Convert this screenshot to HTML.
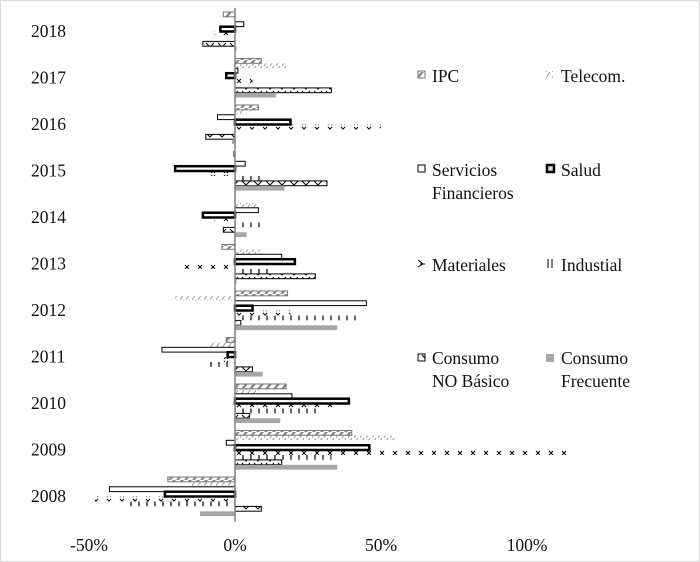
<!DOCTYPE html>
<html><head><meta charset="utf-8"><style>
body{margin:0;background:#fff}
svg{display:block}
text{font-family:"Liberation Serif",serif;font-size:17.5px;fill:#111}
</style></head><body>
<svg id="chart" width="700" height="562" viewBox="0 0 700 562">
<defs>
<pattern id="pIPC" width="8" height="6" patternUnits="userSpaceOnUse"><rect width="8" height="6" fill="#fff"/><path d="M0,6 L5,0 L8,0 L3,6Z" fill="#888"/></pattern>
<pattern id="pTel" width="6" height="6" patternUnits="userSpaceOnUse"><path d="M0,6 L4,0" stroke="#999" stroke-width="1"/></pattern>
<pattern id="pMat" width="13" height="6" patternUnits="userSpaceOnUse"><path d="M3,1 L7,5 M7,1 L3,5" stroke="#000" stroke-width="1"/></pattern>
<pattern id="pInd" width="8" height="6" patternUnits="userSpaceOnUse"><path d="M3,0 L3,6" stroke="#000" stroke-width="1.2"/></pattern>
<pattern id="pCNB" width="12" height="6" patternUnits="userSpaceOnUse"><rect width="12" height="6" fill="#fff"/><path d="M2,1 L6,5 L10,1" stroke="#000" fill="none" stroke-width="1"/></pattern>
</defs>
<rect x="0.5" y="0.5" width="699" height="561" fill="#fff" stroke="#d9d9d9"/>
<g id="bars"></g>
<line x1="235" y1="8" x2="235" y2="522" stroke="#808080" stroke-width="1.5"/>
<g id="ylabels"></g>
<g id="xlabels"></g>
<g>
<g><rect x="418" y="71" width="7" height="7" fill="url(#pIPC)" stroke="#777"/><text x="432" y="82">IPC</text></g>
<g><rect x="546" y="71" width="7" height="7" fill="url(#pTel)"/><text x="561" y="82">Telecom.</text></g>
<g><rect x="418" y="165" width="7" height="7" fill="#fff" stroke="#000"/><text x="432" y="176">Servicios</text><text x="432" y="199">Financieros</text></g>
<g><rect x="547" y="165" width="7" height="7" fill="#ddd" stroke="#000" stroke-width="2.5"/><text x="561" y="176">Salud</text></g>
<g><path d="M418,260 L423,264 L418,267 M420,264 L425,264" stroke="#000" fill="none"/><text x="432" y="271">Materiales</text></g>
<g><path d="M548,259 L548,268 M552,259 L552,268" stroke="#000"/><text x="561" y="271">Industial</text></g>
<g><rect x="418" y="354" width="7" height="7" fill="url(#pCNB)" stroke="#000"/><text x="432" y="364">Consumo</text><text x="432" y="387">NO Básico</text></g>
<g><rect x="546" y="354" width="8" height="8" fill="#a6a6a6"/><text x="561" y="364">Consumo</text><text x="561" y="387">Frecuente</text></g>
</g>
</svg>
<script>
const years=[2018,2017,2016,2015,2014,2013,2012,2011,2010,2009,2008];
const ipc=[-4,9,8,-0.5,0,-4.5,18,-3,17.5,40,-23];
const telecom=[-1,18,4,0,7.5,9,-20.5,-9,8,55,-15];
const serviciosFin=[3,1,-6,3.5,8,16,45,-25,19.5,-3,-43];
const salud=[-5,-3,19,-20.5,-11,20.5,6,-2.5,39,46,-24];
const materiales=[-7,6,50,-10,-7,-18,19,-6,33.5,116,-48];
const industrial=[-2,0,0,10,10,13,43,-10,28,33,-36];
const consumoNoBasico=[-11,33,-10,31.5,-4,27.5,2,6,5,16,9];
const consumoFrecuente=[0.5,14,-1,17,4,0.5,35,9.5,15.5,35,-12];
const xTicks=[-50,0,50,100];
const seriesNames=['ipc','telecom','servicios-financieros','salud','materiales','industrial','consumo-no-basico','consumo-frecuente'];
const seriesData=[ipc,telecom,serviciosFin,salud,materiales,industrial,consumoNoBasico,consumoFrecuente];
const styles=[
 {fill:'url(#pIPC)',stroke:'#777',sw:1},
 {fill:'url(#pTel)',stroke:'none',sw:0},
 {fill:'#fff',stroke:'#000',sw:1},
 {fill:'#fff',stroke:'#000',sw:2.5},
 {fill:'url(#pMat)',stroke:'none',sw:0},
 {fill:'url(#pInd)',stroke:'none',sw:0},
 {fill:'url(#pCNB)',stroke:'#000',sw:1},
 {fill:'#a6a6a6',stroke:'none',sw:0}];
const xScale=v=>235+v*2.92;
const yScale=i=>31+i*46.5;
const NS='http://www.w3.org/2000/svg';
const g=document.getElementById('bars');
seriesData.forEach((arr,s)=>{
 arr.forEach((v,i)=>{
  const r=document.createElementNS(NS,'rect');
  const x0=xScale(0),x1=xScale(v);
  const y=yScale(i)-19+s*4.9;
  r.setAttribute('x',Math.min(x0,x1));
  r.setAttribute('y',y);
  r.setAttribute('width',Math.max(Math.abs(x1-x0),0.01));
  r.setAttribute('height',4.8);
  r.setAttribute('fill',styles[s].fill);
  r.setAttribute('stroke',styles[s].stroke);
  r.setAttribute('stroke-width',styles[s].sw);
  
  
  g.appendChild(r);
 });
});
const yl=document.getElementById('ylabels');
years.forEach((yr,i)=>{
 const t=document.createElementNS(NS,'text');
 t.setAttribute('x',31);t.setAttribute('y',yScale(i)+6);
 t.textContent=yr;
 
 
 yl.appendChild(t);
});
const xl=document.getElementById('xlabels');
xTicks.forEach(v=>{
 const t=document.createElementNS(NS,'text');
 t.setAttribute('x',xScale(v));t.setAttribute('y',551);
 t.setAttribute('text-anchor','middle');
 t.textContent=v+'%';
 
 
 xl.appendChild(t);
});
</script>
</body></html>
